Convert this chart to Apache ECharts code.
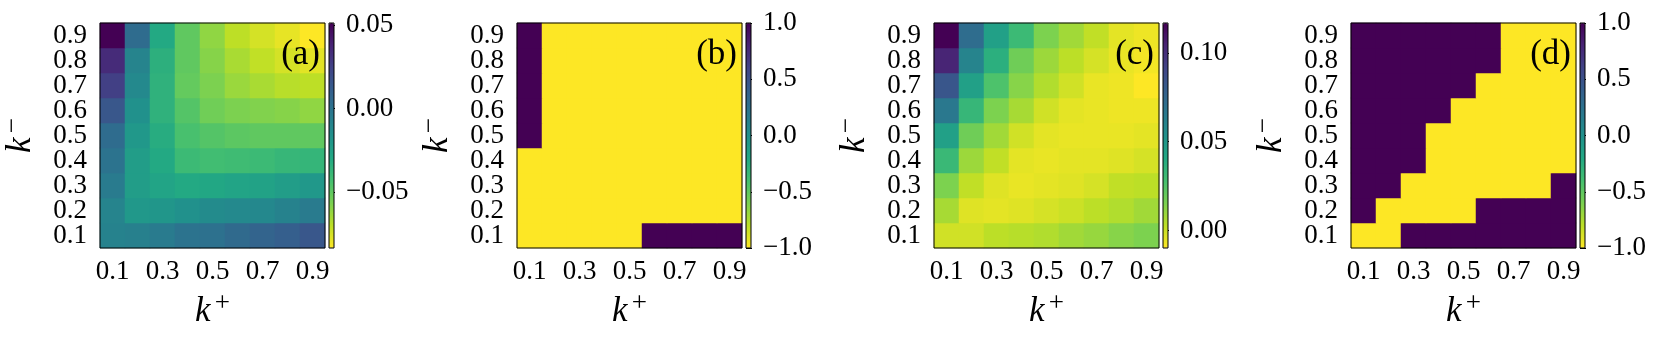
<!DOCTYPE html>
<html>
<head>
<meta charset="utf-8">
<title>k+ / k- heatmaps</title>
<script src="https://cdn.jsdelivr.net/npm/echarts@6/dist/echarts.min.js"></script>
<style>
  html, body { margin: 0; padding: 0; background: #fff; }
  #chart { width: 1661px; height: 340px; }
</style>
</head>
<body>
<div id="chart"></div>
<script>
// categories (same on both axes)
var kLabels = ['0.1', '0.2', '0.3', '0.4', '0.5', '0.6', '0.7', '0.8', '0.9'];

// rows listed from k- = 0.1 (bottom) up to k- = 0.9 (top), columns k+ = 0.1 .. 0.9
var rowsA = [
  [-0.008, -0.007, -0.004,  0.000,  0.001,  0.005,  0.008,  0.011,  0.015],
  [-0.009, -0.020, -0.019, -0.016, -0.013, -0.012, -0.011, -0.008, -0.004],
  [-0.004, -0.023, -0.027, -0.030, -0.029, -0.027, -0.026, -0.023, -0.020],
  [ 0.000, -0.023, -0.030, -0.040, -0.042, -0.041, -0.040, -0.038, -0.037],
  [ 0.004, -0.020, -0.032, -0.044, -0.047, -0.049, -0.050, -0.050, -0.050],
  [ 0.015, -0.016, -0.035, -0.047, -0.054, -0.057, -0.058, -0.059, -0.061],
  [ 0.026, -0.012, -0.035, -0.051, -0.057, -0.063, -0.066, -0.069, -0.070],
  [ 0.035, -0.009, -0.034, -0.050, -0.059, -0.066, -0.071, -0.075, -0.078],
  [ 0.0514, 0.004, -0.030, -0.050, -0.061, -0.070, -0.075, -0.079, -0.0836]
];
var rowsB = [
  [-1, -1, -1, -1, -1,  1,  1,  1,  1],
  [-1, -1, -1, -1, -1, -1, -1, -1, -1],
  [-1, -1, -1, -1, -1, -1, -1, -1, -1],
  [-1, -1, -1, -1, -1, -1, -1, -1, -1],
  [ 1, -1, -1, -1, -1, -1, -1, -1, -1],
  [ 1, -1, -1, -1, -1, -1, -1, -1, -1],
  [ 1, -1, -1, -1, -1, -1, -1, -1, -1],
  [ 1, -1, -1, -1, -1, -1, -1, -1, -1],
  [ 1, -1, -1, -1, -1, -1, -1, -1, -1]
];
var rowsC = [
  [-0.001, -0.001,  0.003,  0.004,  0.005,  0.008,  0.010,  0.013,  0.015],
  [ 0.007, -0.004, -0.005, -0.004, -0.002,  0.000,  0.003,  0.005,  0.008],
  [ 0.015,  0.002, -0.004, -0.006, -0.005, -0.004, -0.002,  0.002,  0.003],
  [ 0.032,  0.009,  0.002, -0.005, -0.006, -0.005, -0.005, -0.004, -0.002],
  [ 0.045,  0.018,  0.008, -0.001, -0.005, -0.006, -0.006, -0.006, -0.005],
  [ 0.066,  0.033,  0.015,  0.007, -0.001, -0.005, -0.006, -0.007, -0.007],
  [ 0.083,  0.045,  0.026,  0.013,  0.005, -0.001, -0.006, -0.007, -0.0099],
  [ 0.104,  0.060,  0.037,  0.018,  0.009,  0.003, -0.002, -0.006, -0.008],
  [ 0.1169, 0.072,  0.045,  0.031,  0.015,  0.008,  0.002, -0.005, -0.007]
];
var rowsD = [
  [-1, -1,  1,  1,  1,  1,  1,  1,  1],
  [ 1, -1, -1, -1, -1,  1,  1,  1,  1],
  [ 1,  1, -1, -1, -1, -1, -1, -1,  1],
  [ 1,  1,  1, -1, -1, -1, -1, -1, -1],
  [ 1,  1,  1, -1, -1, -1, -1, -1, -1],
  [ 1,  1,  1,  1, -1, -1, -1, -1, -1],
  [ 1,  1,  1,  1,  1, -1, -1, -1, -1],
  [ 1,  1,  1,  1,  1,  1, -1, -1, -1],
  [ 1,  1,  1,  1,  1,  1, -1, -1, -1]
];

// colorbar tick labels
var cbTicksA = [-0.05, 0, 0.05];
var cbTicksB = [-1, -0.5, 0, 0.5, 1];
var cbTicksC = [0, 0.05, 0.10];
var cbTicksD = [-1, -0.5, 0, 0.5, 1];

var panelTags = ['(a)', '(b)', '(c)', '(d)'];

// viridis, reversed: yellow = low, purple = high
var viridisR = ['#fde725', '#bddf26', '#7ad151', '#44bf70', '#22a884', '#21918c',
                '#2a788e', '#355f8d', '#414487', '#482475', '#440154'];

var serif = 'Liberation Serif';
var tickSize = 27;
var plotLefts = [100, 517, 934, 1351];
var plotTop = 23, plotSize = 225, cbGap = 4, cbWidth = 5;

var panels = [
  { rows: rowsA, ticks: cbTicksA, dec: 2 },
  { rows: rowsB, ticks: cbTicksB, dec: 1 },
  { rows: rowsC, ticks: cbTicksC, dec: 2 },
  { rows: rowsD, ticks: cbTicksD, dec: 1 }
];

function toCells(rows) {
  var out = [];
  rows.forEach(function (row, j) {
    row.forEach(function (v, i) { out.push([i, j, v]); });
  });
  return out;
}

function nameRich() {
  return {
    k: { fontFamily: serif, fontStyle: 'italic', fontSize: 35, color: '#000' },
    s: { fontFamily: serif, fontSize: 27, color: '#000', verticalAlign: 'top', padding: [0, 0, 16, 4] }
  };
}

var grids = [], xAxes = [], yAxes = [], series = [], visualMaps = [], graphics = [];

panels.forEach(function (p, n) {
  var L = plotLefts[n];
  var vals = [].concat.apply([], p.rows);
  var vmin = Math.min.apply(null, vals), vmax = Math.max.apply(null, vals);
  var frame = { show: true, z: 10, borderColor: '#000', borderWidth: 1,
                backgroundColor: 'transparent', containLabel: false, outerBoundsMode: 'none' };

  grids.push(Object.assign({ left: L, top: plotTop, width: plotSize, height: plotSize }, frame));
  grids.push(Object.assign({ left: L + plotSize + cbGap, top: plotTop, width: cbWidth, height: plotSize }, frame));

  xAxes.push({
    type: 'category', gridIndex: 2 * n, data: kLabels,
    axisLine: { show: false },
    axisTick: { alignWithLabel: true, interval: 0, length: 6, lineStyle: { color: '#000' } },
    axisLabel: { interval: 1, margin: 10, fontSize: tickSize, fontFamily: serif, color: '#000' },
    splitLine: { show: false },
    name: '{k|k}{s|+}', nameLocation: 'middle', nameGap: 42,
    nameTextStyle: { rich: nameRich() }
  });
  yAxes.push({
    type: 'category', gridIndex: 2 * n, data: kLabels,
    axisLine: { show: false },
    axisTick: { alignWithLabel: true, interval: 0, length: 6, lineStyle: { color: '#000' } },
    axisLabel: { interval: 0, margin: 13, fontSize: tickSize, fontFamily: serif, color: '#000' },
    splitLine: { show: false },
    name: '{k|k}{s|−}', nameLocation: 'middle', nameGap: 58, nameRotate: 90,
    nameTextStyle: { rich: nameRich() }
  });

  // colorbar axes
  xAxes.push({ type: 'value', gridIndex: 2 * n + 1, show: false });
  yAxes.push({
    type: 'value', gridIndex: 2 * n + 1, position: 'right', min: vmin, max: vmax,
    axisLine: { show: false },
    splitLine: { show: false },
    axisTick: { customValues: p.ticks, length: 6, lineStyle: { color: '#000' } },
    axisLabel: {
      customValues: p.ticks, margin: 12, fontSize: tickSize, fontFamily: serif, color: '#000',
      formatter: (function (dec) {
        return function (v) { return Number(v).toFixed(dec).replace('-', '\u2212'); };
      })(p.dec)
    }
  });

  series.push({
    type: 'heatmap', xAxisIndex: 2 * n, yAxisIndex: 2 * n,
    data: toCells(p.rows), emphasis: { disabled: true }
  });

  visualMaps.push({
    type: 'continuous', seriesIndex: n, min: vmin, max: vmax,
    inRange: { color: viridisR },
    calculable: false, hoverLink: false, orient: 'vertical',
    left: L + plotSize + cbGap, top: plotTop,
    itemWidth: cbWidth, itemHeight: plotSize, padding: 0, text: null
  });

  graphics.push({
    type: 'text', z: 20,
    style: { text: panelTags[n], x: L + plotSize - 5, y: 55, align: 'right', verticalAlign: 'middle',
             font: '35px ' + serif, fill: '#000' }
  });
});

var chart = echarts.init(document.getElementById('chart'));
chart.setOption({
  animation: false,
  grid: grids,
  xAxis: xAxes,
  yAxis: yAxes,
  visualMap: visualMaps,
  series: series,
  graphic: graphics
});
</script>
</body>
</html>
